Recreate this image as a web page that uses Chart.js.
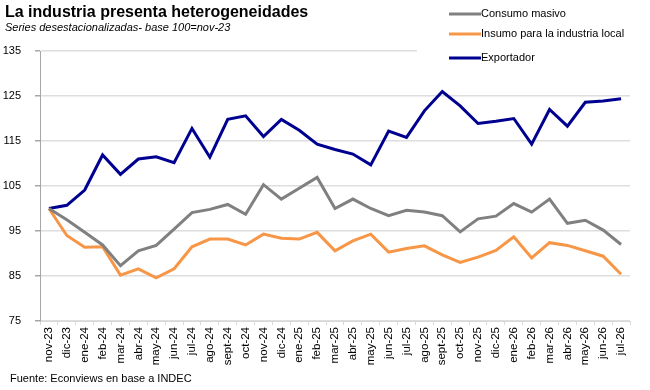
<!DOCTYPE html>
<html>
<head>
<meta charset="utf-8">
<script src="https://cdn.jsdelivr.net/npm/chart.js@4.4.1/dist/chart.umd.min.js"></script>
<style>
  html, body { margin: 0; padding: 0; background: #fff; }
  #wrap { width: 650px; height: 390px; position: relative; }
</style>
</head>
<body>
<div id="wrap"><canvas id="chart" width="650" height="390"></canvas></div>
<script>
const labels = ['nov-23','dic-23','ene-24','feb-24','mar-24','abr-24','may-24','jun-24','jul-24','ago-24','sept-24','oct-24',
  'nov-24','dic-24','ene-25','feb-25','mar-25','abr-25','may-25','jun-25','jul-25','ago-25','sept-25','oct-25',
  'nov-25','dic-25','ene-26','feb-26','mar-26','abr-26','may-26','jun-26','jul-26'];

const consumo = [100, 97.5, 94.7, 91.9, 87.3, 90.6, 91.8, 95.4, 99.1, 99.8, 100.9, 98.7,
  105.3, 102.1, 104.5, 106.9, 100.0, 102.1, 100.0, 98.4, 99.6, 99.2, 98.4, 94.8,
  97.7, 98.3, 101.1, 99.2, 102.1, 96.7, 97.4, 95.2, 92.0];

const insumo = [100, 94.0, 91.4, 91.5, 85.2, 86.6, 84.6, 86.6, 91.5, 93.2, 93.2, 91.9,
  94.3, 93.4, 93.2, 94.7, 90.6, 92.8, 94.3, 90.3, 91.1, 91.7, 89.7, 88.0,
  89.2, 90.7, 93.7, 89.0, 92.4, 91.8, 90.6, 89.4, 85.4];

const exportador = [100, 100.7, 104.1, 111.9, 107.6, 111.0, 111.5, 110.2, 117.8, 111.4, 119.8, 120.6,
  116.0, 119.8, 117.4, 114.3, 113.1, 112.1, 109.7, 117.2, 115.8, 121.7, 126.0, 122.8,
  118.9, 119.4, 120.0, 114.3, 122.0, 118.3, 123.6, 123.9, 124.4];

const seriesNames = ['Consumo masivo', 'Insumo para la industria local', 'Exportador'];
const seriesColors = ['#808080', '#f79646', '#000090'];

const FONT = '"Liberation Sans", Arial, sans-serif';

const decor = {
  id: 'decor',
  afterDraw(chart) {
    const ctx = chart.ctx;
    ctx.save();
    // legend box
    ctx.fillStyle = '#fff';
    ctx.fillRect(417, 0, 233, 68);
    const ys = [14, 34, 58];
    chart.data.datasets.forEach((ds, i) => {
      ctx.strokeStyle = ds.borderColor;
      ctx.lineWidth = 3;
      ctx.beginPath();
      ctx.moveTo(449, ys[i]);
      ctx.lineTo(481, ys[i]);
      ctx.stroke();
      ctx.fillStyle = '#000';
      ctx.font = '11px ' + FONT;
      ctx.textBaseline = 'middle';
      ctx.textAlign = 'left';
      ctx.fillText(ds.label, 481, ys[i]);
    });
    // title, subtitle, source
    ctx.textBaseline = 'alphabetic';
    ctx.fillStyle = '#000';
    ctx.font = 'bold 16px ' + FONT;
    ctx.fillText('La industria presenta heterogeneidades', 5, 17);
    ctx.font = 'italic 11px ' + FONT;
    ctx.fillText('Series desestacionalizadas- base 100=nov-23', 5, 31);
    ctx.font = '11px ' + FONT;
    ctx.fillText('Fuente: Econviews en base a INDEC', 10, 382);
    ctx.restore();
  }
};

new Chart(document.getElementById('chart'), {
  type: 'line',
  data: {
    labels: labels,
    datasets: [consumo, insumo, exportador].map((d, i) => ({
      label: seriesNames[i],
      data: d,
      borderColor: seriesColors[i],
      backgroundColor: seriesColors[i],
      borderWidth: 3,
      pointRadius: 0,
      tension: 0
    }))
  },
  options: {
    responsive: false,
    animation: false,
    layout: { padding: { top: 51, right: 20, bottom: 20, left: 0 } },
    plugins: {
      legend: { display: false },
      title: { display: false },
      tooltip: { enabled: false }
    },
    scales: {
      x: {
        offset: true,
        grid: { offset: true, drawOnChartArea: false, drawTicks: true, tickLength: 4, color: '#d9d9d9' },
        border: { color: '#d9d9d9', width: 1 },
        ticks: {
          autoSkip: false, maxRotation: 90, minRotation: 90, padding: 2,
          color: '#000', font: { family: FONT, size: 11.5 }
        },
        afterFit(scale) { scale.height = 49; }
      },
      y: {
        min: 75, max: 135,
        grid: { color: '#dedede', lineWidth: 1.5, tickLength: 5, tickColor: '#a6a6a6' },
        border: { color: '#a6a6a6', width: 1 },
        ticks: { stepSize: 10, padding: 14, color: '#000', font: { family: FONT, size: 11 } },
        afterFit(scale) { scale.width = 40; }
      }
    }
  },
  plugins: [decor]
});
</script>
</body>
</html>
